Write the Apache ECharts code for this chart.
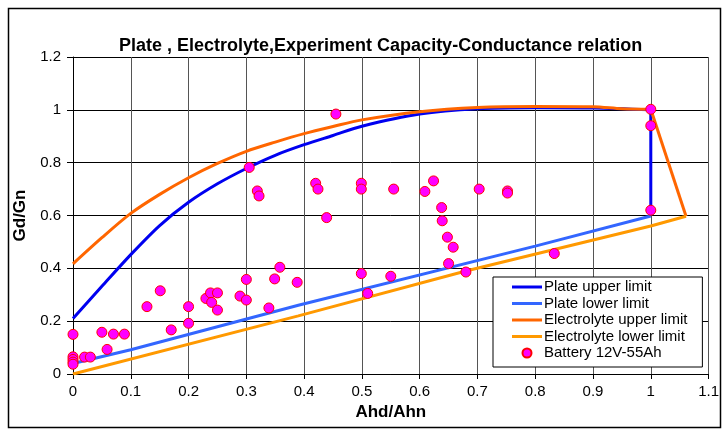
<!DOCTYPE html>
<html>
<head>
<meta charset="utf-8">
<script src="https://cdn.jsdelivr.net/npm/echarts@6/dist/echarts.min.js"></script>
<style>html,body{margin:0;padding:0;background:#fff}#c{width:722px;height:435px}</style>
</head>
<body>
<div id="c"></div>
<script>
const titleText = 'Plate , Electrolyte,Experiment Capacity-Conductance relation';
const xName = 'Ahd/Ahn';
const yName = 'Gd/Gn';
const seriesNames = ['Plate upper limit', 'Plate lower limit', 'Electrolyte upper limit', 'Electrolyte lower limit', 'Battery 12V-55Ah'];

const plateUpperCurve = [[0,0.21],[0.05,0.332],[0.1,0.452],[0.15,0.562],[0.2,0.65],[0.25,0.72],[0.3,0.778],[0.35,0.828],[0.4,0.868],[0.45,0.903],[0.5,0.938],[0.6,0.984],[0.7,1.004],[0.8,1.008],[0.9,1.007],[1.0,1.0]];
const plateUpperDrop = [[1.0,1.0],[1.0,0.6]];
const plateLower = [[0,0.04],[0.1,0.092],[0.39,0.26],[0.8,0.484],[1.0,0.598]];
const electrolyteUpperCurve = [[0,0.417],[0.05,0.516],[0.1,0.608],[0.15,0.68],[0.2,0.743],[0.25,0.797],[0.3,0.843],[0.35,0.878],[0.4,0.91],[0.45,0.937],[0.5,0.962],[0.6,0.993],[0.7,1.009],[0.8,1.013],[0.9,1.012],[0.95,1.004],[1.0,1.002]];
const electrolyteUpperDrop = [[1.0,1.002],[1.061,0.597]];
const electrolyteLower = [[0,0],[0.39,0.22],[0.68,0.39],[1.0,0.56],[1.061,0.597]];
const battery = [
  [0,0.15],[0,0.065],[0,0.055],[0,0.045],[0,0.037],
  [0.02,0.064],[0.03,0.064],[0.05,0.158],[0.059,0.093],[0.07,0.151],[0.089,0.151],
  [0.128,0.255],[0.151,0.315],[0.17,0.167],[0.2,0.255],[0.2,0.192],
  [0.23,0.286],[0.238,0.307],[0.25,0.307],[0.24,0.271],[0.25,0.242],
  [0.289,0.295],[0.3,0.28],[0.3,0.358],[0.339,0.25],[0.349,0.36],[0.358,0.404],[0.388,0.347],
  [0.305,0.782],[0.319,0.693],[0.322,0.674],[0.455,0.984],
  [0.42,0.722],[0.424,0.70],[0.439,0.592],
  [0.499,0.722],[0.499,0.70],[0.555,0.70],[0.609,0.691],[0.624,0.731],
  [0.638,0.63],[0.639,0.58],[0.648,0.518],[0.658,0.48],[0.65,0.418],[0.68,0.386],
  [0.703,0.70],[0.752,0.693],[0.752,0.685],
  [0.499,0.38],[0.55,0.37],[0.51,0.305],
  [0.833,0.456],
  [1.0,1.002],[1.0,0.94],[1.0,0.62]
];

const FONT = "'Liberation Sans', Arial, sans-serif";
const chart = echarts.init(document.getElementById('c'), null, {renderer: 'canvas'});

function lineSeries(name, data, color, smooth) {
  return {
    name: name, type: 'line', data: data, symbol: 'none', showSymbol: false,
    smooth: smooth || false,
    lineStyle: {color: color, width: 3}, itemStyle: {color: color},
    z: 2, animation: false
  };
}
const lineIcon = 'path://M0,0 L30,0 L30,3 L0,3 Z';

chart.setOption({
  animation: false,
  backgroundColor: '#fff',
  textStyle: {fontFamily: FONT},
  title: {
    text: titleText, left: 114, top: 32,
    textStyle: {fontFamily: FONT, fontSize: 18, fontWeight: 'bold', color: '#000'}
  },
  graphic: [{
    type: 'rect', silent: true, z: -10,
    shape: {x: 8.5, y: 8.5, width: 712, height: 419},
    style: {fill: 'none', stroke: '#000', lineWidth: 1.5}
  }],
  grid: {left: 73, right: 8, top: 57, bottom: 61, containLabel: false},
  legend: {
    orient: 'vertical', left: 493, top: 277,
    padding: [2, 15, 6, 19],
    backgroundColor: '#fff', borderColor: '#000', borderWidth: 1,
    itemWidth: 30, itemHeight: 9, itemGap: 0.5,
    textStyle: {fontFamily: FONT, fontSize: 15, lineHeight: 16, color: '#000', padding: [0, 0, 0, -3]},
    data: [
      {name: seriesNames[0], icon: lineIcon},
      {name: seriesNames[1], icon: lineIcon},
      {name: seriesNames[2], icon: lineIcon},
      {name: seriesNames[3], icon: lineIcon},
      {name: seriesNames[4], icon: 'circle'}
    ]
  },
  xAxis: {
    type: 'value', min: 0, max: 1.1, interval: 0.1,
    name: xName, nameLocation: 'middle', nameGap: 29,
    nameTextStyle: {fontFamily: FONT, fontSize: 17, fontWeight: 'bold', color: '#000'},
    axisLine: {show: true, onZero: false, lineStyle: {color: '#000', width: 1}},
    axisTick: {show: true, length: 5, lineStyle: {color: '#000'}},
    axisLabel: {fontFamily: FONT, fontSize: 15, color: '#000', margin: 10},
    splitLine: {show: true, lineStyle: {color: '#555', width: 1}}
  },
  yAxis: {
    type: 'value', min: 0, max: 1.2, interval: 0.2,
    name: yName, nameLocation: 'middle', nameGap: 42,
    nameTextStyle: {fontFamily: FONT, fontSize: 17, fontWeight: 'bold', color: '#000'},
    axisLine: {show: true, onZero: false, lineStyle: {color: '#000', width: 1}},
    axisTick: {show: true, length: 6, lineStyle: {color: '#000'}},
    axisLabel: {fontFamily: FONT, fontSize: 15, color: '#000', margin: 12},
    splitLine: {show: true, lineStyle: {color: '#000', width: 1}}
  },
  series: [
    lineSeries(seriesNames[0], plateUpperCurve, '#0000F0', 0.3),
    lineSeries(seriesNames[0], plateUpperDrop, '#0000F0'),
    lineSeries(seriesNames[1], plateLower, '#3366FF'),
    lineSeries(seriesNames[2], electrolyteUpperCurve, '#FF6600', 0.3),
    lineSeries(seriesNames[2], electrolyteUpperDrop, '#FF6600'),
    lineSeries(seriesNames[3], electrolyteLower, '#FF9900'),
    {
      name: seriesNames[4], type: 'scatter', data: battery,
      symbol: 'circle', symbolSize: 10,
      itemStyle: {color: '#FF00FF', borderColor: '#FF0000', borderWidth: 1, opacity: 1},
      z: 5
    }
  ]
});
</script>
</body>
</html>
